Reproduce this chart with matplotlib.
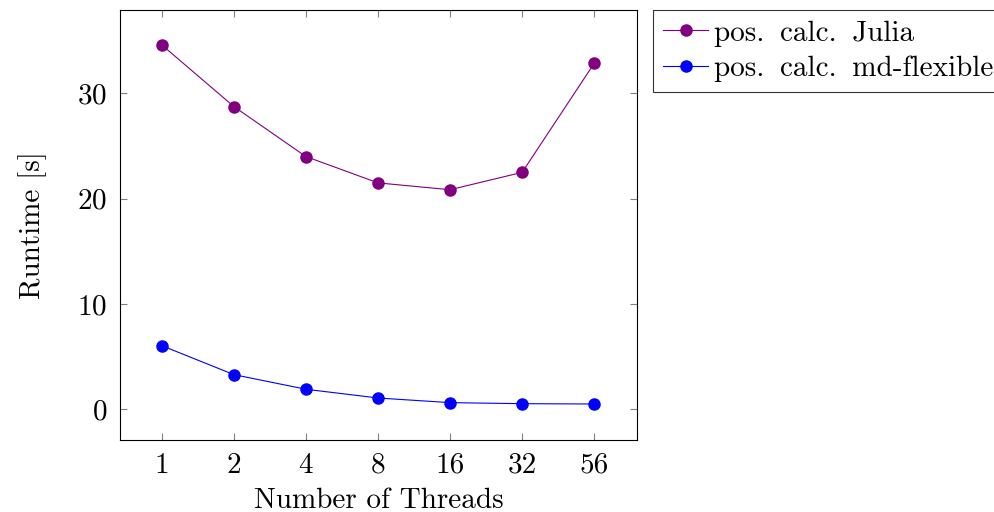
import numpy as np
import matplotlib
matplotlib.use("Agg")
import matplotlib.pyplot as plt

plt.rcParams['font.family'] = ['cmr10', 'DejaVu Serif']
plt.rcParams['axes.formatter.use_mathtext'] = True
plt.rcParams['font.size'] = 21

# thread counts (evenly spaced on the x axis)
threads = ["1", "2", "4", "8", "16", "32", "56"]
julia = [34.6, 28.75, 24.0, 21.5, 20.85, 22.5, 32.85]
mdflex = [6.04, 3.29, 1.9, 1.07, 0.63, 0.53, 0.5]
labels = ["pos.\u2009 calc.\u2009 Julia", "pos.\u2009 calc.\u2009 md-flexible"]

fig = plt.figure(figsize=(9.95, 5.12), dpi=100)
ax = fig.add_axes([0.1206, 0.1406, 0.5193, 0.8399])

x = np.arange(len(threads))
ax.plot(x, julia, color='#800080', marker='o', markersize=8, linewidth=0.8,
        label=labels[0])
ax.plot(x, mdflex, color='#0000ff', marker='o', markersize=8, linewidth=0.8,
        label=labels[1])

ax.set_xticks(x)
ax.set_xticklabels(threads)
ax.set_yticks([0, 10, 20, 30])
ax.set_xlim(-0.58, 6.59)
ax.set_ylim(-2.92, 37.92)

ax.tick_params(direction='in', top=True, right=True, length=5, width=0.8,
               color='#808080', pad=9)
for s in ax.spines.values():
    s.set_linewidth(0.8)

ax.set_xlabel('Number of Threads', labelpad=6)
ax.set_ylabel('Runtime [s]', labelpad=22)

leg = ax.legend(loc='upper left', bbox_to_anchor=(1.0315, 1.0), frameon=True,
                fancybox=False, edgecolor='black', handlelength=1.55,
                handletextpad=0.2, borderpad=0.35, labelspacing=0.3,
                borderaxespad=0)
leg.get_frame().set_linewidth(0.8)

plt.savefig('out.png', dpi=100)
